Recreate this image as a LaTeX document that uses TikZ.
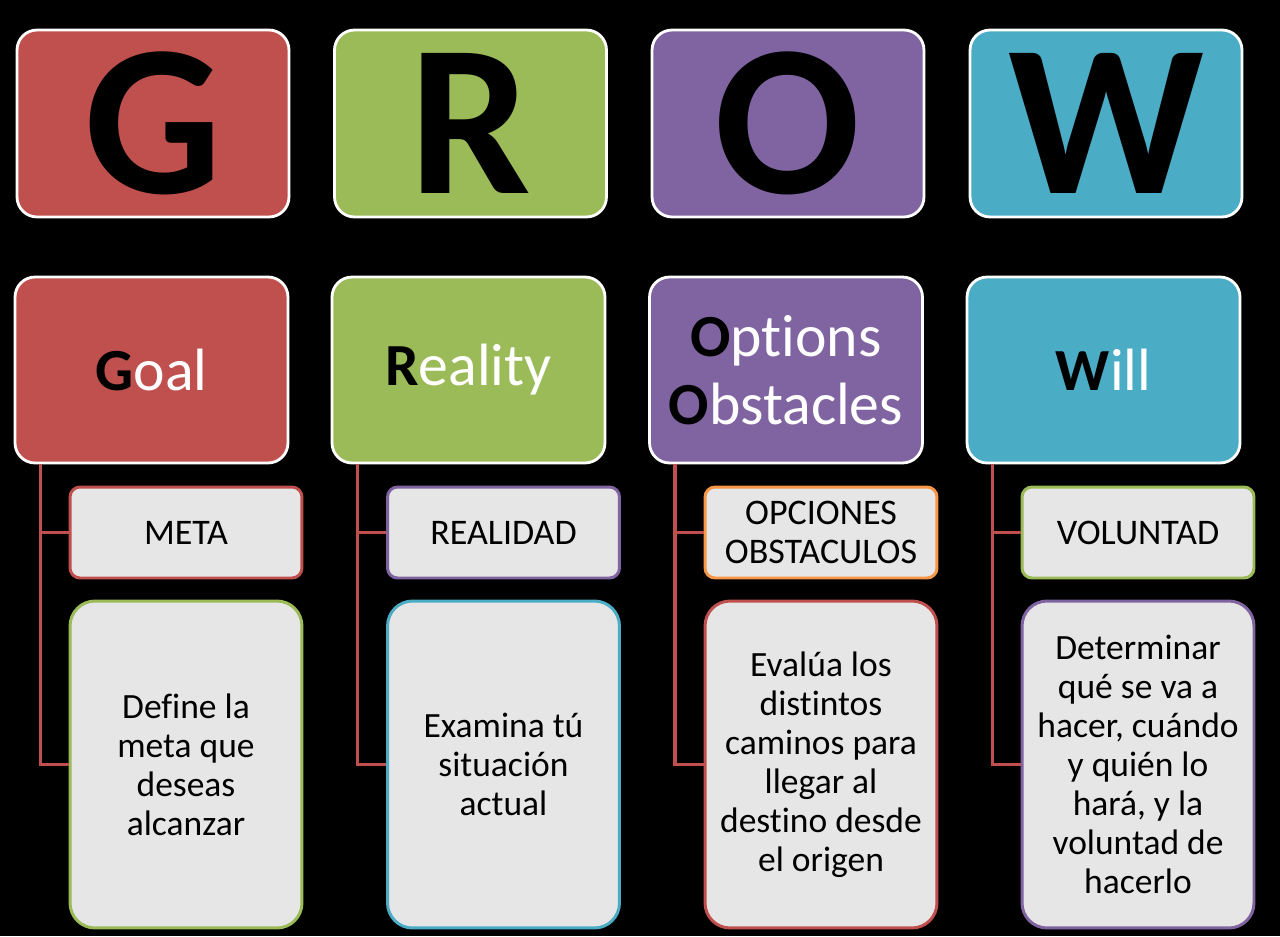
\documentclass[tikz,border=0pt]{standalone}
\usepackage{fontspec}
\setmainfont{Carlito}[Ligatures = NoCommon, Contextuals = NoAlternate]

\definecolor{growred}{HTML}{C0504D}
\definecolor{growgreen}{HTML}{9BBB59}
\definecolor{growpurple}{HTML}{8064A2}
\definecolor{growteal}{HTML}{4BACC6}
\definecolor{groworange}{HTML}{F79646}
\definecolor{growgray}{HTML}{E6E6E6}

\tikzset{
	letterbox/.style = {draw = white, line width = 1.6pt, rounded corners = 0.4cm, minimum width = 5.44cm, minimum height = 3.74cm, inner sep = 0pt, text = black, font = \fontsize{123}{130}\selectfont\bfseries},
	wordbox/.style = {draw = white, line width = 1.6pt, rounded corners = 0.4cm, minimum width = 5.46cm, minimum height = 3.72cm, inner sep = 0pt, text = white, align = center, font = \fontsize{34}{39}\selectfont},
	tagbox/.style = {fill = growgray, line width = 1.7pt, rounded corners = 0.2cm, minimum width = 4.64cm, minimum height = 1.82cm, inner sep = 0pt, text = black, align = center, font = \fontsize{20.5}{22}\selectfont},
	notebox/.style = {fill = growgray, line width = 1.7pt, rounded corners = 0.5cm, minimum width = 4.64cm, minimum height = 6.54cm, inner sep = 0pt, text = black, align = center, font = \fontsize{20.2}{22.2}\selectfont},
	branch/.style = {draw = growred, line width = 2pt}
}

\newcommand{\initial}[1]{{\color{black}\bfseries #1}}

\begin{document}
\begin{tikzpicture}[x = 0.02cm, y = -0.02cm]
	\fill[black] (0, 0) rectangle (1280, 936);
	\useasboundingbox (0, 0) rectangle (1280, 936);

	\node[letterbox, fill = growred] (letterG) at (153, 123.5) {G};
	\node[letterbox, fill = growgreen] (letterR) at (470.5, 123.5) {R};
	\node[letterbox, fill = growpurple] (letterO) at (788, 123.5) {O};
	\node[letterbox, fill = growteal] (letterW) at (1106, 123.5) {W};

	\node[wordbox, fill = growred] (goal) at (151.5, 370) {\initial{G}oal};
	\node[wordbox, fill = growgreen] (reality) at (468.5, 370) {\initial{R}eality};
	\node[wordbox, fill = growpurple] (options) at (786, 370) {\initial{O}pt\kern0pt ions\\\initial{O}bstacles};
	\node[wordbox, fill = growteal] (will) at (1103.5, 370) {\initial{W}ill};

	\node[tagbox, draw = growred] (meta) at (186, 532.5) {META};
	\node[tagbox, draw = growpurple] (realidad) at (503.5, 532.5) {REALIDAD};
	\node[tagbox, draw = groworange] (opciones) at (821, 532.5) {OPCIONES\\OBSTACULOS};
	\node[tagbox, draw = growgreen] (voluntad) at (1138, 532.5) {VOLUNTAD};

	\node[notebox, draw = growgreen] (metanote) at (186, 764.5) {Define la\\meta que\\deseas\\alcanzar};
	\node[notebox, draw = growteal] (realidadnote) at (503.5, 764.5) {Examina tú\\situación\\actual};
	\node[notebox, draw = growred] (opcionesnote) at (821, 764.5) {Evalúa los\\distintos\\caminos para\\llegar al\\destino desde\\el origen};
	\node[notebox, draw = growpurple] (voluntadnote) at (1138, 764.5) {Determinar\\qué se va a\\hacer, cuándo\\y quién lo\\hará, y la\\voluntad de\\hacerlo};

	\draw[branch] ([xshift = 0.54cm]goal.south west) |- (meta.west);
	\draw[branch] ([xshift = 0.54cm]goal.south west) |- (metanote.west);
	\draw[branch] ([xshift = 0.54cm]reality.south west) |- (realidad.west);
	\draw[branch] ([xshift = 0.54cm]reality.south west) |- (realidadnote.west);
	\draw[branch] ([xshift = 0.54cm]options.south west) |- (opciones.west);
	\draw[branch] ([xshift = 0.54cm]options.south west) |- (opcionesnote.west);
	\draw[branch] ([xshift = 0.54cm]will.south west) |- (voluntad.west);
	\draw[branch] ([xshift = 0.54cm]will.south west) |- (voluntadnote.west);
\end{tikzpicture}
\end{document}
